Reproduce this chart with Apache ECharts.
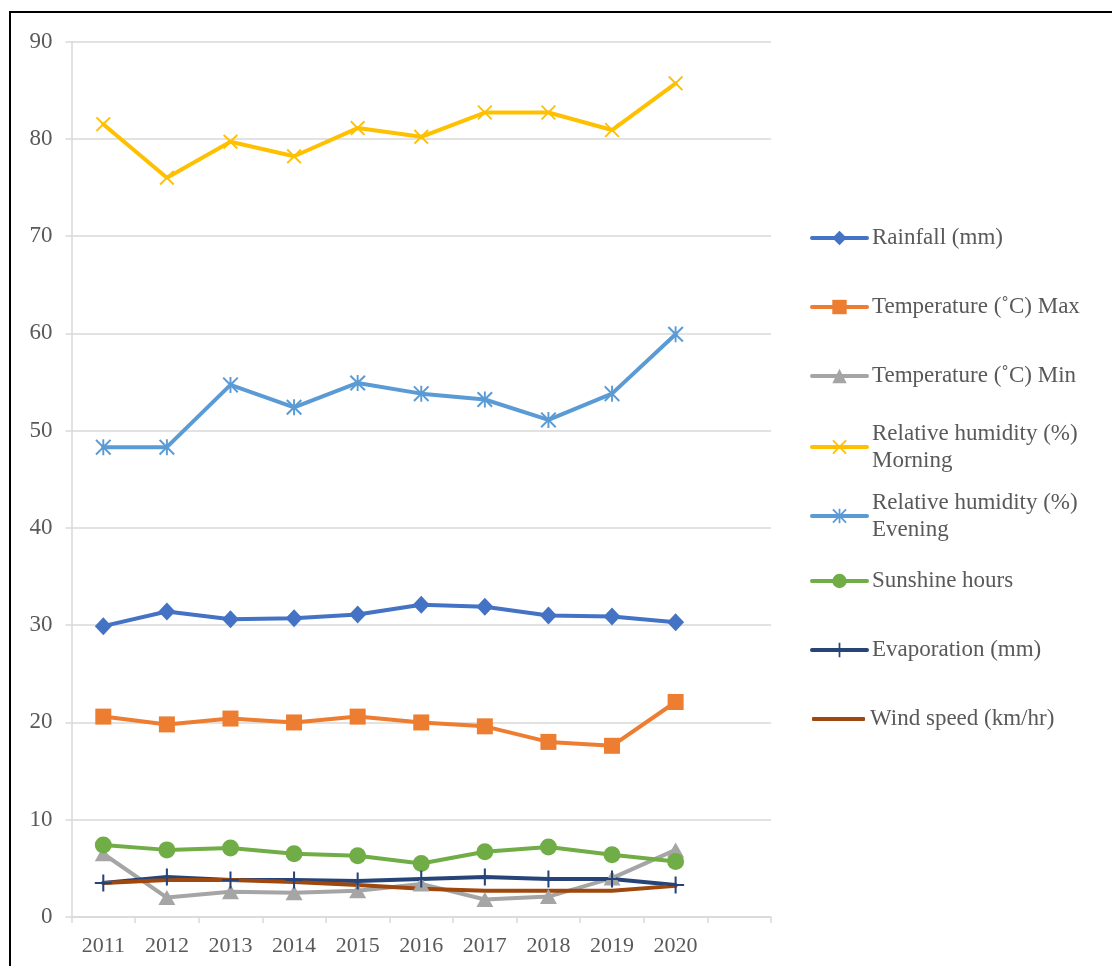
<!DOCTYPE html>
<html>
<head>
<meta charset="utf-8">
<script src="https://cdn.jsdelivr.net/npm/echarts@6/dist/echarts.min.js"></script>
<style>
html,body{margin:0;padding:0;background:#fff;}
#chart{width:1112px;height:966px;}
</style>
</head>
<body>
<div id="chart"></div>
<script>
var years = ['2011','2012','2013','2014','2015','2016','2017','2018','2019','2020'];
var yTicks = [0,10,20,30,40,50,60,70,80,90];

var rainfall    = [29.9, 31.4, 30.6, 30.7, 31.1, 32.1, 31.9, 31.0, 30.9, 30.3];
var tempMax     = [20.6, 19.8, 20.4, 20.0, 20.6, 20.0, 19.6, 18.0, 17.6, 22.1];
var tempMin     = [6.5, 2.0, 2.6, 2.5, 2.7, 3.4, 1.8, 2.1, 4.0, 6.9];
var rhMorning   = [81.5, 76.0, 79.7, 78.2, 81.1, 80.2, 82.7, 82.7, 80.9, 85.7];
var rhEvening   = [48.3, 48.3, 54.7, 52.4, 54.9, 53.8, 53.2, 51.1, 53.8, 59.9];
var sunshine    = [7.4, 6.9, 7.1, 6.5, 6.3, 5.5, 6.7, 7.2, 6.4, 5.7];
var evaporation = [3.5, 4.1, 3.8, 3.8, 3.7, 3.9, 4.1, 3.9, 3.9, 3.3];
var windSpeed   = [3.5, 3.8, 3.8, 3.6, 3.3, 2.9, 2.7, 2.7, 2.7, 3.2];

var seriesNames = [
  'Rainfall (mm)',
  'Temperature (\u02DAC) Max',
  'Temperature (\u02DAC) Min',
  'Relative humidity (%) Morning',
  'Relative humidity (%) Evening',
  'Sunshine hours',
  'Evaporation (mm)',
  'Wind speed (km/hr)'
];

var FONT = '"Liberation Serif", "Times New Roman", serif';
var TXT = '#595959';
var GRID = '#D9D9D9';

var SYM_X = 'path://M0,0.9 L0.9,0 L5,4.1 L9.1,0 L10,0.9 L5.9,5 L10,9.1 L9.1,10 L5,5.9 L0.9,10 L0,9.1 L4.1,5 Z';
var SYM_AST = 'path://M0,0.9 L0.9,0 L5,4.1 L9.1,0 L10,0.9 L5.9,5 L10,9.1 L9.1,10 L5,5.9 L0.9,10 L0,9.1 L4.1,5 Z M4.4,0 L5.6,0 L5.6,10 L4.4,10 Z';
var SYM_PLUS = 'path://M4.4,0 L5.6,0 L5.6,10 L4.4,10 Z M0,4.4 L10,4.4 L10,5.6 L0,5.6 Z';

function mk(name, data, color, symbol, size) {
  return {
    name: name,
    type: 'line',
    data: data,
    symbol: symbol,
    symbolSize: size,
    showSymbol: symbol !== 'none',
    lineStyle: { color: color, width: 4, join: 'round', cap: 'round' },
    itemStyle: { color: color, borderWidth: 0 },
    emphasis: { disabled: true },
    z: 2
  };
}

var series = [
  mk(seriesNames[0], rainfall, '#4472C4', 'diamond', [17, 18]),
  mk(seriesNames[1], tempMax, '#ED7D31', 'rect', 16),
  mk(seriesNames[2], tempMin, '#A5A5A5', 'triangle', [17, 15]),
  mk(seriesNames[3], rhMorning, '#FFC000', SYM_X, 15),
  mk(seriesNames[4], rhEvening, '#5B9BD5', SYM_AST, 16),
  mk(seriesNames[5], sunshine, '#70AD47', 'circle', 17),
  mk(seriesNames[6], evaporation, '#264478', SYM_PLUS, 17),
  mk(seriesNames[7], windSpeed, '#9E480E', 'none', 0)
];

var iconCenters = [238, 307, 376, 444, 513, 581, 650, 719];
var LH = 27;
var legends = seriesNames.map(function (n, i) {
  var twoLine = n.indexOf('Relative humidity') === 0;
  var noMarker = series[i].symbol === 'none';
  var lg = {
    data: [n],
    orient: 'vertical',
    left: noMarker ? 812 : 810,
    top: twoLine ? iconCenters[i] - 1.5 * LH + 3 : iconCenters[i] - LH / 2,
    padding: 0,
    itemWidth: noMarker ? 53 : 55,
    itemHeight: noMarker ? 4 : 18,
    selectedMode: false,
    lineStyle: { width: 4, cap: 'round' },
    formatter: function (name) {
      return name.replace(' Morning', '\nMorning').replace(' Evening', '\nEvening');
    },
    textStyle: {
      fontFamily: FONT,
      fontSize: 23,
      color: TXT,
      lineHeight: LH,
      padding: twoLine ? [LH, 0, 0, 0] : 0
    }
  };
  if (noMarker) { lg.icon = 'roundRect'; }
  return lg;
});

var chart = echarts.init(document.getElementById('chart'), null, { renderer: 'canvas' });
chart.setOption({
  animation: false,
  backgroundColor: '#ffffff',
  grid: { left: 71.5, right: 341, top: 41.5, bottom: 49, containLabel: false },
  xAxis: {
    type: 'category',
    data: years.concat(['']),
    boundaryGap: true,
    axisLine: { show: true, lineStyle: { color: GRID, width: 1.5 } },
    axisTick: { show: true, length: 6, lineStyle: { color: GRID, width: 1.5 } },
    axisLabel: { fontFamily: FONT, fontSize: 22, color: TXT, margin: 18, interval: 0 },
    splitLine: { show: false }
  },
  yAxis: {
    type: 'value',
    min: yTicks[0],
    max: yTicks[yTicks.length - 1],
    interval: 10,
    axisLine: { show: true, lineStyle: { color: GRID, width: 1.5 } },
    axisTick: { show: true, length: 6, lineStyle: { color: GRID, width: 1.5 } },
    axisLabel: { fontFamily: FONT, fontSize: 23, color: TXT, margin: 19 },
    splitLine: { show: true, lineStyle: { color: GRID, width: 1.5 } }
  },
  legend: legends,
  series: series,
  graphic: [{
    type: 'rect',
    shape: { x: 10, y: 12, width: 1300, height: 1100 },
    style: { fill: 'none', stroke: '#000000', lineWidth: 2 },
    silent: true,
    z: 100
  }]
});
</script>
</body>
</html>
